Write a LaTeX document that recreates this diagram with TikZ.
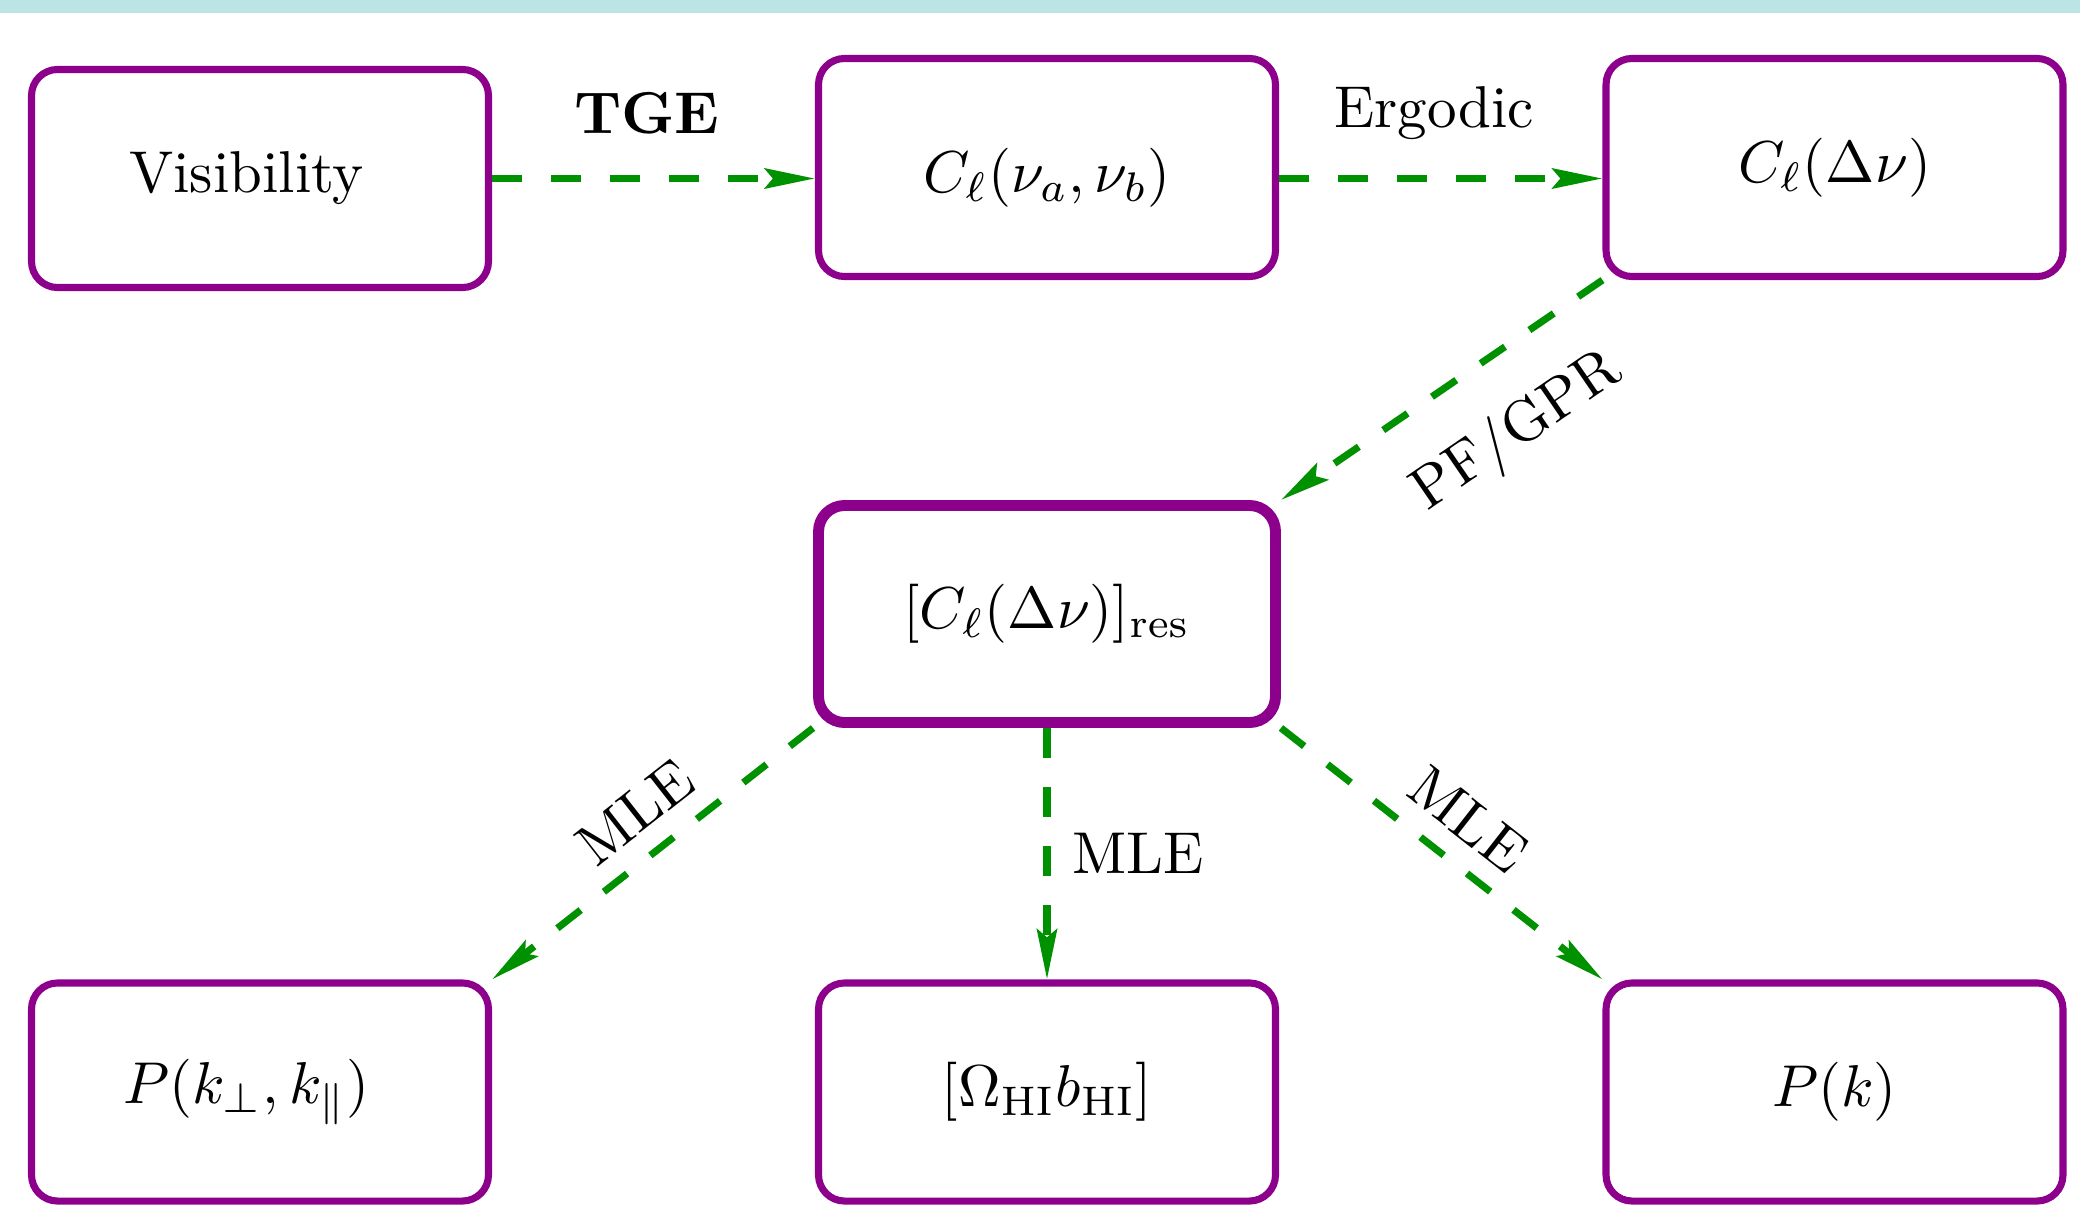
\documentclass[tikz,border=0pt]{standalone}
\usepackage{amssymb}
\usetikzlibrary{arrows.meta}
\definecolor{boxpurple}{RGB}{140,0,140}
\definecolor{flowgreen}{RGB}{0,145,0}
\definecolor{topbar}{RGB}{189,228,228}
\tikzset{
  stagebox/.style={draw=boxpurple, line width=1.2pt, rounded corners=0.155cm,
    minimum width=2.72cm, minimum height=1.298cm, fill=white},
  flow/.style={draw=flowgreen, line width=1.2pt, dash pattern=on 5pt off 5pt,
    -{Stealth[length=0.298cm,width=0.119cm,inset=0.048cm]}},
}
\begin{document}
\begin{tikzpicture}[x=0.05952cm,y=0.05952cm]
\useasboundingbox (0,0) rectangle (208,123.1);
\fill[topbar] (0,121.8) rectangle (208,123.1);
\node[stagebox] (vis) at (26.0,105.25) {Visibility\hspace*{0.16cm}};
\node[stagebox, text height=8.4pt, text depth=0pt] (cab) at (104.7,106.35) {$C_\ell(\nu_a,\nu_b)$};
\node[stagebox] (cdnu) at (183.45,106.35) {$C_\ell(\Delta\nu)$};
\node[stagebox, line width=1.85pt, minimum height=1.292cm] (res) at (104.7,61.7) {$[C_\ell(\Delta\nu)]_{\mathrm{res}}$};
\node[stagebox] (pperp) at (26.0,13.9) {$P(k_\perp,k_\parallel)$\hspace*{0.16cm}};
\node[stagebox] (omega) at (104.7,13.9) {$[\Omega_{\mathrm{HI}}b_{\mathrm{HI}}]$};
\node[stagebox] (pk) at (183.45,13.9) {$P(k)$};

\draw[flow] (vis) -- (cab.west |- vis) node[midway, yshift=11pt, xshift=-0.04cm] {\textbf{TGE}};
\draw[flow] (cab.east |- vis) -- (cdnu.west |- vis) node[midway, yshift=11pt, xshift=-0.04cm] {Ergodic};
\draw[flow] (cdnu.south west) -- (res.north east) node[pos=0.4, sloped, below=4.2pt] {PF/GPR};
\draw[flow] (res.south west) -- (pperp.north east) node[pos=0.47, sloped, above] {MLE};
\draw[flow] (res) -- (omega) node[midway, right=0.4pt] {MLE};
\draw[flow] (res.south east) -- (pk.north west) node[midway, sloped, above] {MLE};
\end{tikzpicture}
\end{document}
